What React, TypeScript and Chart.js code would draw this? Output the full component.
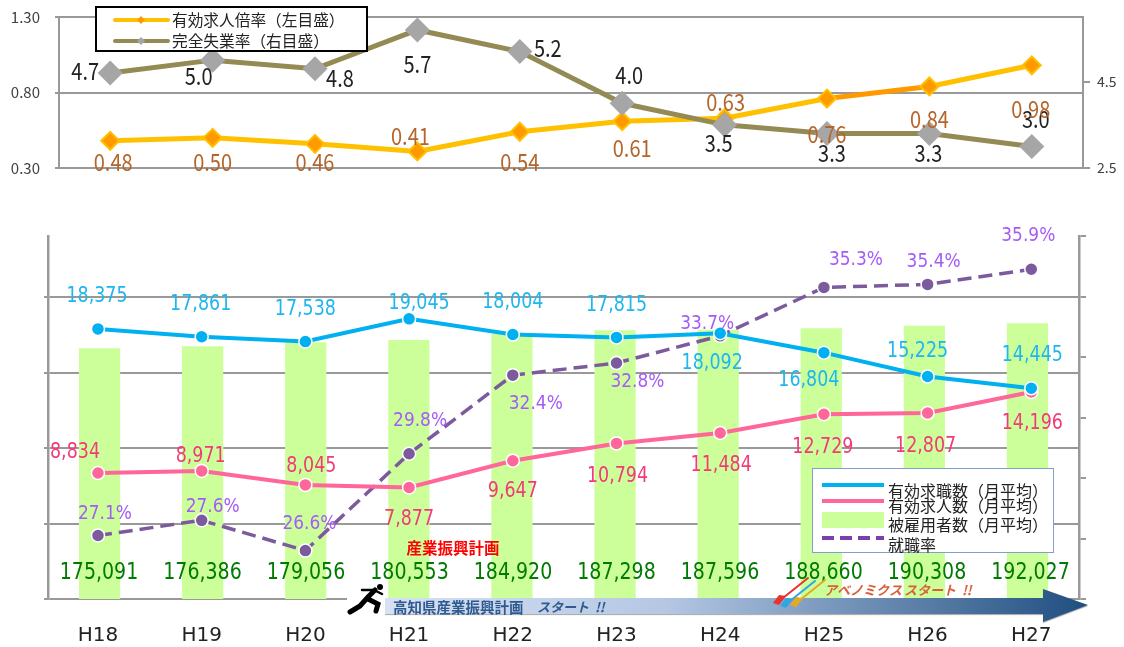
import React, { useEffect, useRef } from "react";
import { Chart, registerables } from "chart.js";

Chart.register(...registerables);

const categories = ["H18", "H19", "H20", "H21", "H22", "H23", "H24", "H25", "H26", "H27"];
const lineIndex = [0, 1, 2, 3, 4, 5, 6, 7, 8, 9];

// Upper chart
const jobRatio = [0.48, 0.5, 0.46, 0.41, 0.54, 0.61, 0.63, 0.76, 0.84, 0.98];
const unemployment = [4.7, 5.0, 4.8, 5.7, 5.2, 4.0, 3.5, 3.3, 3.3, 3.0];
const leftRatioTicks = [0.3, 0.8, 1.3];
const rightRateTicks = [2.5, 4.5];

// Lower chart
const jobSeekers = [18375, 17861, 17538, 19045, 18004, 17815, 18092, 16804, 15225, 14445];
const jobOffers = [8834, 8971, 8045, 7877, 9647, 10794, 11484, 12729, 12807, 14196];
const employees = [175091, 176386, 179056, 180553, 184920, 187298, 187596, 188660, 190308, 192027];
const placementRate = [27.1, 27.6, 26.6, 29.8, 32.4, 32.8, 33.7, 35.3, 35.4, 35.9];
const countGridValues = [490, 5490, 10490, 15490, 20490];
const rateTickValues = [25, 27, 29, 31, 33, 35, 37];

// Label offsets from each point, [dx, dy]
const ratioOffsets = [[3, 21], [0, 24], [0, 18], [-7, -16], [0, 30], [10, 27], [1, -16], [0, 35], [0, 32], [-1, 44]];
const unemploymentOffsets = [[-25, -2], [-14, 16], [25, 9], [0, 34], [28, -4], [7, -28], [-6, 18], [5, 19], [-1, 19], [4, -28]];
const seekerOffsets = [[-1, -32], [-1, -32], [0, -32], [10, -15], [0, -32], [0, -32], [-8, 30], [-15, 28], [-10, -25], [1, -33]];
const offerOffsets = [[-23, -21], [-1, -14], [6, -18], [0, 32], [0, 31], [1, 33], [1, 32], [-1, 33], [-2, 33], [1, 31]];
const rateOffsets = [[7, -21], [11, -13], [4, -27], [11, -33], [23, 29], [21, 19], [-13, -12], [32, -27], [6, -22], [-3, -33]];

const JP = '"Noto Sans CJK JP"';
const LATIN = '"DejaVu Sans"';
const GRID = "#999999";

const fmtInt = (v: number) => v.toLocaleString("en-US");

function stretchedText(ctx: any, text: string, x: number, y: number, sx: number, sy: number) {
  ctx.save();
  ctx.translate(x, y);
  ctx.scale(sx, sy);
  ctx.fillText(text, 0, 0);
  ctx.restore();
}

function drawSeriesLabels(
  chart: any,
  datasetIndex: number,
  values: number[],
  offsets: number[][],
  color: string,
  font: string,
  fmt: (v: number) => string,
  sx = 0.92,
  sy = 1.12
) {
  const ctx = chart.ctx;
  const pts = chart.getDatasetMeta(datasetIndex).data;
  ctx.save();
  ctx.fillStyle = color;
  ctx.font = font;
  ctx.textAlign = "center";
  ctx.textBaseline = "middle";
  values.forEach((v, i) => {
    stretchedText(ctx, fmt(v), pts[i].x + offsets[i][0], pts[i].y + offsets[i][1], sx, sy);
  });
  ctx.restore();
}

const topOverlay = {
  id: "topOverlay",
  afterDatasetsDraw(chart: any) {
    drawSeriesLabels(chart, 0, unemployment, unemploymentOffsets, "#222222", `20px ${JP}`, (v) => v.toFixed(1), 1, 1.2);
    drawSeriesLabels(chart, 1, jobRatio, ratioOffsets, "#b5652a", `20px ${JP}`, (v) => v.toFixed(2), 1, 1.2);
    const ctx = chart.ctx;
    ctx.save();

    // Axis tick labels
    ctx.fillStyle = "#404040";
    ctx.textBaseline = "middle";
    ctx.font = `15px ${JP}`;
    ctx.textAlign = "right";
    leftRatioTicks.forEach((v) => ctx.fillText(v.toFixed(2), 40, chart.scales.yL.getPixelForValue(v)));
    ctx.font = `14px ${JP}`;
    ctx.textAlign = "left";
    rightRateTicks.forEach((v) => ctx.fillText(v.toFixed(1), 1097, chart.scales.yR.getPixelForValue(v)));

    ctx.fillStyle = "#fff";
    ctx.strokeStyle = "#000";
    ctx.lineWidth = 2;
    ctx.fillRect(96, 7, 271, 44);
    ctx.strokeRect(96, 7, 271, 44);
    const rows = [
      { y: 20, line: "#ffc000", mark: "#ff9900", text: "有効求人倍率（左目盛）" },
      { y: 41, line: "#948a54", mark: "#a6a6a6", text: "完全失業率（右目盛）" },
    ];
    rows.forEach((r) => {
      ctx.strokeStyle = r.line;
      ctx.lineWidth = 4;
      ctx.lineCap = "round";
      ctx.beginPath();
      ctx.moveTo(115, r.y);
      ctx.lineTo(168, r.y);
      ctx.stroke();
      ctx.fillStyle = r.mark;
      ctx.beginPath();
      ctx.moveTo(141, r.y - 4);
      ctx.lineTo(145, r.y);
      ctx.lineTo(141, r.y + 4);
      ctx.lineTo(137, r.y);
      ctx.closePath();
      ctx.fill();
      ctx.fillStyle = "#222";
      ctx.font = `15.7px ${JP}`;
      ctx.textAlign = "left";
      ctx.textBaseline = "middle";
      ctx.fillText(r.text, 172, r.y);
    });
    ctx.restore();
  },
};

function drawDart(ctx: any, x: number, y: number, color: string) {
  ctx.strokeStyle = color;
  ctx.fillStyle = color;
  ctx.lineWidth = 2;
  ctx.beginPath();
  ctx.moveTo(x, y);
  ctx.lineTo(x + 30, y - 24);
  ctx.stroke();
  ctx.beginPath();
  ctx.moveTo(x + 8, y - 6);
  ctx.lineTo(x + 1, y - 7);
  ctx.lineTo(x - 5, y + 1);
  ctx.lineTo(x + 1, y + 3);
  ctx.closePath();
  ctx.fill();
}

const bottomOverlay = {
  id: "bottomOverlay",
  afterDatasetsDraw(chart: any) {
    const ctx = chart.ctx;
    drawSeriesLabels(chart, 2, placementRate, rateOffsets, "#a55cf5", `17px ${LATIN}`, (v) => v.toFixed(1) + "%", 1, 1.12);
    drawSeriesLabels(chart, 0, jobSeekers, seekerOffsets, "#1eb6f0", `19px ${LATIN}`, fmtInt);
    drawSeriesLabels(chart, 1, jobOffers, offerOffsets, "#f23a78", `19px ${LATIN}`, fmtInt);

    // Employee totals along the foot of the bars
    const anchors = chart.getDatasetMeta(0).data;
    ctx.save();
    ctx.fillStyle = "#007a00";
    ctx.font = `20px ${LATIN}`;
    ctx.textAlign = "center";
    ctx.textBaseline = "middle";
    employees.forEach((v, i) =>
      stretchedText(ctx, fmtInt(v), anchors[i].x + 1 - i * 0.2, chart.chartArea.bottom - 26, 0.95, 1.12)
    );

    ctx.fillStyle = "#ff0000";
    ctx.font = `bold 15.5px ${JP}`;
    ctx.fillText("産業振興計画", 453, 548);

    // Timeline arrow
    const grad = ctx.createLinearGradient(385, 0, 1088, 0);
    grad.addColorStop(0, "#d6e1f3");
    grad.addColorStop(0.4, "#b4c7e3");
    grad.addColorStop(1, "#1f4e80");
    ctx.fillStyle = grad;
    ctx.shadowColor = "rgba(0,0,0,0.35)";
    ctx.shadowOffsetY = 1;
    ctx.shadowBlur = 1;
    ctx.beginPath();
    ctx.moveTo(385, 598);
    ctx.lineTo(1043, 598);
    ctx.lineTo(1043, 589);
    ctx.lineTo(1088, 605);
    ctx.lineTo(1043, 622);
    ctx.lineTo(1043, 614);
    ctx.lineTo(385, 614);
    ctx.closePath();
    ctx.fill();
    ctx.shadowColor = "transparent";

    // Runner icon
    ctx.fillStyle = "#fff";
    ctx.fillRect(347, 583, 38, 32);
    ctx.strokeStyle = "#000";
    ctx.lineCap = "round";
    ctx.lineWidth = 5;
    ctx.beginPath();
    ctx.moveTo(350, 612);
    ctx.lineTo(360, 606);
    ctx.lineTo(368, 597);
    ctx.lineTo(375, 590);
    ctx.moveTo(368, 599);
    ctx.lineTo(378, 604);
    ctx.lineTo(376, 611);
    ctx.stroke();
    ctx.lineWidth = 2.5;
    ctx.beginPath();
    ctx.moveTo(373, 590);
    ctx.lineTo(362, 590);
    ctx.moveTo(374, 590);
    ctx.lineTo(382, 594);
    ctx.stroke();
    ctx.fillStyle = "#000";
    ctx.beginPath();
    ctx.arc(380, 587, 3, 0, Math.PI * 2);
    ctx.fill();

    ctx.fillStyle = "#2f5a8f";
    ctx.font = `bold 14.5px ${JP}`;
    ctx.textAlign = "left";
    ctx.fillText("高知県産業振興計画", 393, 607);
    ctx.font = `italic bold 13px ${JP}`;
    ctx.fillText("スタート  !!", 537, 607);

    drawDart(ctx, 778, 602, "#e8322c");
    drawDart(ctx, 785, 605, "#2ea7e0");
    drawDart(ctx, 795, 604, "#e9a91e");

    ctx.fillStyle = "#d9603a";
    ctx.font = `italic bold 13px ${JP}`;
    ctx.fillText("アベノミクス", 824, 590);
    ctx.fillText("スタート  !!", 904, 590);

    // Legend
    ctx.fillStyle = "#fff";
    ctx.strokeStyle = "#7f9fcf";
    ctx.lineWidth = 1;
    ctx.fillRect(812.5, 468.5, 241, 84);
    ctx.strokeRect(812.5, 468.5, 241, 84);
    ctx.lineCap = "butt";
    ctx.lineWidth = 4;
    ctx.strokeStyle = "#00b0f0";
    ctx.beginPath();
    ctx.moveTo(822, 485);
    ctx.lineTo(884, 485);
    ctx.stroke();
    ctx.strokeStyle = "#ff6699";
    ctx.beginPath();
    ctx.moveTo(822, 501);
    ctx.lineTo(884, 501);
    ctx.stroke();
    ctx.fillStyle = "#ccff99";
    ctx.fillRect(822, 512, 62, 16);
    ctx.strokeStyle = "#7a3fa8";
    ctx.setLineDash([12, 6]);
    ctx.beginPath();
    ctx.moveTo(822, 538);
    ctx.lineTo(884, 538);
    ctx.stroke();
    ctx.setLineDash([]);
    ctx.fillStyle = "#222";
    ctx.font = `16px ${JP}`;
    ctx.textAlign = "left";
    ctx.fillText("有効求職数（月平均）", 888, 491);
    ctx.fillText("有効求人数（月平均）", 888, 506);
    ctx.fillText("被雇用者数（月平均）", 888, 525);
    ctx.fillText("就職率", 888, 545);
    ctx.restore();
  },
};

function buildTop(canvas: HTMLCanvasElement) {
  return new Chart(canvas, {
    type: "line",
    data: {
      labels: categories,
      datasets: [
        {
          label: "完全失業率（右目盛）",
          data: unemployment,
          yAxisID: "yR",
          order: 1,
          borderColor: "#948a54",
          borderWidth: 5,
          pointStyle: "rectRot",
          pointRadius: 9,
          pointBackgroundColor: "#a6a6a6",
          pointBorderColor: "#a6a6a6",
          tension: 0,
        },
        {
          label: "有効求人倍率（左目盛）",
          data: jobRatio,
          yAxisID: "yL",
          order: 2,
          borderColor: "#ffc000",
          borderWidth: 5,
          pointStyle: "rectRot",
          pointRadius: 9,
          pointBorderWidth: 2,
          pointBackgroundColor: "#ff9900",
          pointBorderColor: "#ffc000",
          tension: 0,
          segment: {
            borderColor: (c: any) => (c.p0DataIndex === 7 ? "#ff9900" : undefined),
          },
        },
      ],
    },
    options: {
      responsive: false,
      animation: false,
      layout: { autoPadding: false, padding: { left: 0, right: 0, top: 17, bottom: 479 } },
      plugins: { legend: { display: false }, tooltip: { enabled: false } },
      scales: {
        x: { display: false, offset: true },
        yL: {
          position: "left",
          min: 0.3,
          max: 1.3,
          afterFit: (s: any) => {
            s.width = 59;
          },
          afterBuildTicks: (s: any) => {
            s.ticks = leftRatioTicks.map((value) => ({ value }));
          },
          grid: { color: GRID, lineWidth: 2, tickLength: 4 },
          border: { color: GRID, width: 2 },
          ticks: { display: false, autoSkip: false },
        },
        yR: {
          position: "right",
          min: 2.5,
          max: 6,
          afterFit: (s: any) => {
            s.width = 41;
          },
          afterBuildTicks: (s: any) => {
            s.ticks = rightRateTicks.map((value) => ({ value }));
          },
          grid: { drawOnChartArea: false, color: GRID, lineWidth: 2, tickLength: 7 },
          border: { color: GRID, width: 2 },
          ticks: { display: false, autoSkip: false },
        },
      },
    },
    plugins: [topOverlay],
  } as any);
}

function buildBottom(canvas: HTMLCanvasElement) {
  const xy = (arr: number[]) => arr.map((y, i) => ({ x: lineIndex[i], y }));
  const lineBase = { xAxisID: "x2", tension: 0, pointBorderColor: "#fff", pointBorderWidth: 1.5, pointRadius: 6.5 };
  return new Chart(canvas, {
    type: "bar",
    data: {
      labels: categories,
      datasets: [
        {
          ...lineBase,
          type: "line",
          label: "有効求職数（月平均）",
          data: xy(jobSeekers),
          yAxisID: "yCount",
          order: 1,
          borderColor: "#00b0f0",
          borderWidth: 4,
          pointBackgroundColor: "#00b0f0",
        },
        {
          ...lineBase,
          type: "line",
          label: "有効求人数（月平均）",
          data: xy(jobOffers),
          yAxisID: "yCount",
          order: 2,
          borderColor: "#ff6699",
          borderWidth: 4,
          pointBackgroundColor: "#ff6699",
        },
        {
          ...lineBase,
          type: "line",
          label: "就職率",
          data: xy(placementRate),
          yAxisID: "yRate",
          order: 3,
          borderColor: "#7c5a9e",
          borderWidth: 3.5,
          borderDash: [14, 7],
          pointBackgroundColor: "#7c5a9e",
        },
        {
          type: "bar",
          label: "被雇用者数（月平均）",
          data: employees,
          xAxisID: "x",
          yAxisID: "yBar",
          order: 4,
          grouped: false,
          backgroundColor: "#ccff99",
          categoryPercentage: 1,
          barPercentage: 0.4,
        },
      ],
    },
    options: {
      responsive: false,
      animation: false,
      layout: { autoPadding: false, padding: { left: 48, right: 45, top: 236, bottom: 0 } },
      plugins: { legend: { display: false }, tooltip: { enabled: false } },
      scales: {
        x: { type: "category", display: false, offset: true },
        x2: {
          type: "linear",
          position: "bottom",
          offset: false,
          min: -0.482,
          max: 9.46,
          afterFit: (s: any) => {
            s.height = 48;
          },
          afterBuildTicks: (s: any) => {
            s.ticks = lineIndex.map((value) => ({ value }));
          },
          grid: { display: false, offset: false },
          border: { display: false },
          ticks: {
            autoSkip: false,
            maxRotation: 0,
            padding: 17,
            color: "#222",
            font: { family: "DejaVu Sans", size: 20 },
            callback: (v: any) => categories[Number(v)],
          },
        },
        yBar: { display: false, min: 5400, max: 251000 },
        yCount: {
          position: "left",
          min: 490,
          max: 24530,
          afterFit: (s: any) => {
            s.width = 0;
          },
          afterBuildTicks: (s: any) => {
            s.ticks = countGridValues.map((value) => ({ value }));
          },
          grid: { color: GRID, lineWidth: 2, tickLength: 4 },
          border: { color: GRID, width: 2.5 },
          ticks: { display: false, autoSkip: false },
        },
        yRate: {
          position: "right",
          min: 25,
          max: 37,
          afterFit: (s: any) => {
            s.width = 0;
          },
          afterBuildTicks: (s: any) => {
            s.ticks = rateTickValues.map((value) => ({ value }));
          },
          grid: { drawOnChartArea: false, color: GRID, lineWidth: 2, tickLength: 7 },
          border: { color: GRID, width: 2.5 },
          ticks: { display: false, autoSkip: false },
        },
      },
    },
    plugins: [bottomOverlay],
  } as any);
}

export default function App() {
  const topRef = useRef<HTMLCanvasElement>(null);
  const bottomRef = useRef<HTMLCanvasElement>(null);
  useEffect(() => {
    const a = buildBottom(bottomRef.current!);
    const b = buildTop(topRef.current!);
    return () => {
      a.destroy();
      b.destroy();
    };
  }, []);
  const style: React.CSSProperties = { position: "absolute", left: 0, top: 0, display: "block" };
  return (
    <div style={{ position: "absolute", left: 0, top: 0, width: 1124, height: 647, background: "#fff", overflow: "hidden" }}>
      <canvas ref={bottomRef} width={1124} height={647} style={style} />
      <canvas ref={topRef} width={1124} height={647} style={style} />
    </div>
  );
}
